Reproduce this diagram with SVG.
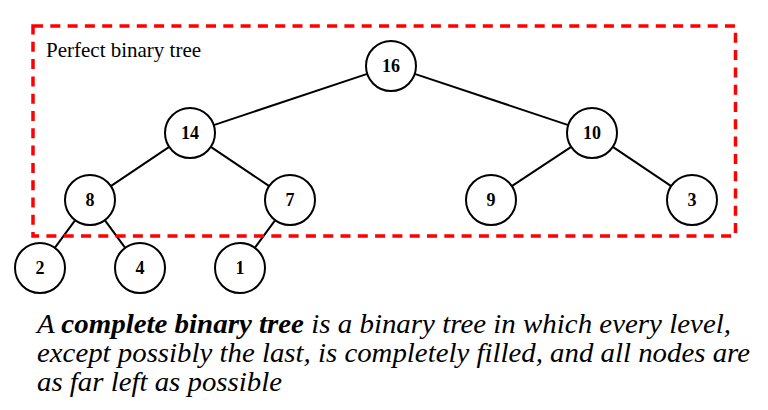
<svg xmlns="http://www.w3.org/2000/svg" width="768" height="410" viewBox="0 0 768 410">
<style>
.node circle{fill:#fff;stroke:#000;stroke-width:2}
.node text{font-family:'Liberation Serif','Times New Roman',serif;font-weight:bold;font-size:18px;text-anchor:middle;fill:#000}
#edges line{stroke:#000;stroke-width:2}
.cap{font-family:'Liberation Serif','Times New Roman',serif;font-style:italic;font-size:27px;fill:#000}
.lbl{font-family:'Liberation Serif','Times New Roman',serif;font-size:21px;fill:#000}
</style>
<rect width="768" height="410" fill="#fff"/>
<g id="edges">
<line x1="367.3" y1="73.9" x2="213.7" y2="125.1"/>
<line x1="414.7" y1="73.9" x2="568.3" y2="125.1"/>
<line x1="169.2" y1="146.9" x2="110.8" y2="186.1"/>
<line x1="210.8" y1="146.9" x2="269.2" y2="186.1"/>
<line x1="571.2" y1="146.8" x2="511.8" y2="186.2"/>
<line x1="612.8" y1="146.9" x2="671.2" y2="186.1"/>
<line x1="75.2" y1="220.1" x2="54.8" y2="247.9"/>
<line x1="104.8" y1="220.1" x2="125.2" y2="247.9"/>
<line x1="275.2" y1="220.1" x2="254.8" y2="247.9"/>
</g>
<g id="n16" class="node"><circle cx="391" cy="66" r="25"/><text x="391" y="72">16</text></g>
<g id="n14" class="node"><circle cx="190" cy="133" r="25"/><text x="190" y="139">14</text></g>
<g id="n10" class="node"><circle cx="592" cy="133" r="25"/><text x="592" y="139">10</text></g>
<g id="n8" class="node"><circle cx="90" cy="200" r="25"/><text x="90" y="206">8</text></g>
<g id="n7" class="node"><circle cx="290" cy="200" r="25"/><text x="290" y="206">7</text></g>
<g id="n9" class="node"><circle cx="491" cy="200" r="25"/><text x="491" y="206">9</text></g>
<g id="n3" class="node"><circle cx="692" cy="200" r="25"/><text x="692" y="206">3</text></g>
<g id="n2" class="node"><circle cx="40" cy="268" r="25"/><text x="40" y="274">2</text></g>
<g id="n4" class="node"><circle cx="140" cy="268" r="25"/><text x="140" y="274">4</text></g>
<g id="n1" class="node"><circle cx="240" cy="268" r="25"/><text x="240" y="274">1</text></g>
<g id="perfect">
<rect x="33" y="26" width="702.5" height="210" fill="none" stroke="#f00" stroke-width="3.5" stroke-dasharray="10 7.3"/>
<text class="lbl" x="46" y="57">Perfect binary tree</text>
</g>
<g id="caption">
<text class="cap" x="37" y="333" textLength="694" lengthAdjust="spacingAndGlyphs">A <tspan font-weight="bold">complete binary tree</tspan> is a binary tree in which every level,</text>
<text class="cap" x="37" y="362" textLength="713" lengthAdjust="spacingAndGlyphs">except possibly the last, is completely filled, and all nodes are</text>
<text class="cap" x="37" y="391" textLength="245" lengthAdjust="spacingAndGlyphs">as far left as possible</text>
</g>
</svg>
